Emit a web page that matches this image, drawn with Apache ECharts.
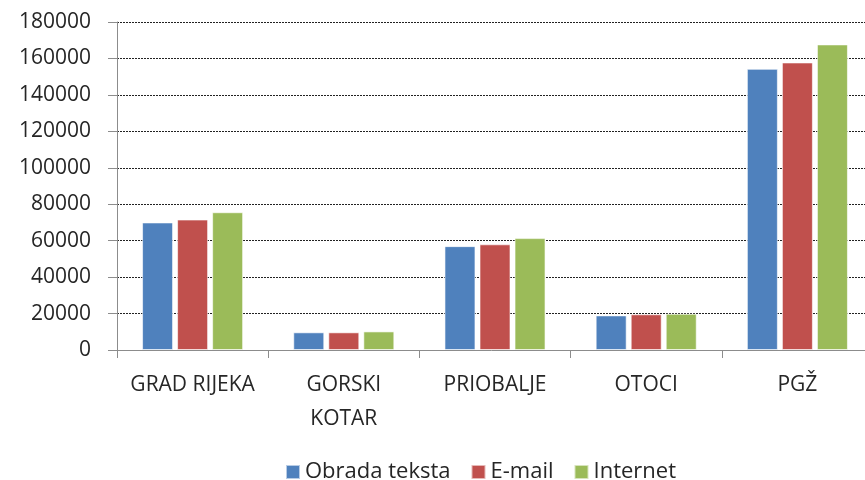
<!DOCTYPE html>
<html>
<head>
<meta charset="utf-8">
<script src="https://cdn.jsdelivr.net/npm/echarts@6/dist/echarts.min.js"></script>
<style>
html, body { margin: 0; padding: 0; background: #fff; }
#main { width: 865px; height: 480px; }
</style>
</head>
<body>
<div id="main"></div>
<script>
var categories = ['GRAD RIJEKA', 'GORSKI\nKOTAR', 'PRIOBALJE', 'OTOCI', 'PGŽ'];
var obrada = [70000, 9700, 57000, 19000, 154300];
var email = [71600, 9700, 58000, 19600, 157800];
var internet = [75600, 10200, 61400, 19900, 167700];
var yTicks = [0, 20000, 40000, 60000, 80000, 100000, 120000, 140000, 160000, 180000];

var myChart = echarts.init(document.getElementById('main'));
var font = 'Open Sans';

function bar(name, data, color) {
    return {
        name: name,
        type: 'bar',
        data: data,
        barWidth: 31,
        barGap: '13%',
        itemStyle: { color: color, borderColor: 'rgba(255,255,255,0.6)', borderWidth: 1 }
    };
}

var option = {
    animation: false,
    textStyle: { fontFamily: font },
    grid: { left: 117, top: 22, height: 328, width: 756, outerBoundsMode: 'none', containLabel: false },
    legend: {
        top: 456,
        left: 280,
        itemWidth: 14,
        itemHeight: 14,
        itemGap: 20,
        icon: 'rect',
        textStyle: { fontSize: 22, color: '#262626', fontFamily: font, padding: [0, 0, 0, 0] },
        data: ['Obrada teksta', 'E-mail', 'Internet']
    },
    xAxis: {
        type: 'category',
        data: categories,
        axisLine: { lineStyle: { color: '#8c8c8c', width: 1 } },
        axisTick: { show: true, length: 8, lineStyle: { color: '#8c8c8c' } },
        axisLabel: { interval: 0, fontSize: 21, color: '#262626', margin: 18, lineHeight: 34, fontFamily: font }
    },
    yAxis: {
        type: 'value',
        min: yTicks[0],
        max: yTicks[yTicks.length - 1],
        interval: 20000,
        axisLine: { show: true, lineStyle: { color: '#8c8c8c', width: 1 } },
        axisTick: { show: true, length: 9, lineStyle: { color: '#8c8c8c' } },
        axisLabel: {
            fontSize: 21, color: '#262626', margin: 26, fontFamily: font,
            formatter: function (v) { return String(v); }
        },
        splitLine: { show: true, lineStyle: { color: '#222', type: [2, 1], width: 1 } }
    },
    series: [
        bar('Obrada teksta', obrada, '#4f81bd'),
        bar('E-mail', email, '#c0504d'),
        bar('Internet', internet, '#9bbb59')
    ]
};
myChart.setOption(option);
</script>
</body>
</html>
